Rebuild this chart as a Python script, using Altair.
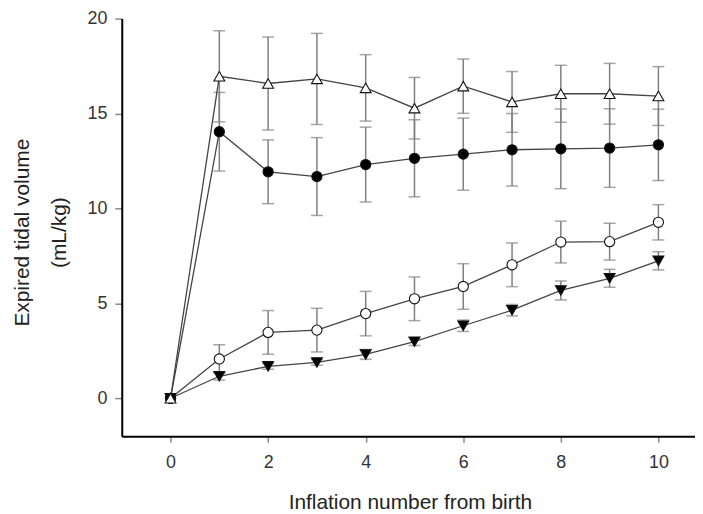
import altair as alt
import pandas as pd

inflation = [0, 1, 2, 3, 4, 5, 6, 7, 8, 9, 10]

tri_up_mean = [0, 16.96, 16.58, 16.82, 16.35, 15.28, 16.44, 15.61, 16.04, 16.04, 15.92]
tri_up_err = [0, 2.40, 2.45, 2.40, 1.75, 1.62, 1.43, 1.60, 1.50, 1.60, 1.55]

circ_fill_mean = [0, 14.04, 11.93, 11.68, 12.31, 12.64, 12.86, 13.09, 13.14, 13.18, 13.35]
circ_fill_err = [0, 2.07, 1.68, 2.05, 1.97, 2.03, 1.90, 1.91, 2.10, 2.07, 1.88]

circ_open_mean = [0, 2.07, 3.47, 3.59, 4.46, 5.24, 5.89, 7.03, 8.23, 8.25, 9.27]
circ_open_err = [0, 0.75, 1.15, 1.15, 1.17, 1.15, 1.20, 1.15, 1.10, 0.97, 0.93]

tri_down_mean = [0, 1.16, 1.68, 1.89, 2.31, 2.98, 3.82, 4.64, 5.68, 6.32, 7.24]
tri_down_err = [0, 0.20, 0.15, 0.15, 0.26, 0.20, 0.30, 0.30, 0.50, 0.47, 0.48]

series = {
    "tri_down": (tri_down_mean, tri_down_err),
    "circ_open": (circ_open_mean, circ_open_err),
    "circ_fill": (circ_fill_mean, circ_fill_err),
    "tri_up": (tri_up_mean, tri_up_err),
}

rows = []
for name, (means, errs) in series.items():
    for xi, m, e in zip(inflation, means, errs):
        rows.append({"series": name, "x": xi, "y": m, "lo": m - e, "hi": m + e, "err": e})
df = pd.DataFrame(rows)

xscale = alt.Scale(domain=[-1, 10.75], nice=False, zero=False)
yscale = alt.Scale(domain=[-2, 20], nice=False, zero=False)

xaxis = alt.Axis(
    values=[0, 2, 4, 6, 8, 10], grid=False,
    domainColor="#000000", domainWidth=2,
    tickColor="#888888", tickWidth=1.5, tickSize=6,
    labelFont="Liberation Sans", labelFontSize=18, labelColor="#333333", labelPadding=11,
    title="Inflation number from birth", titleFont="Liberation Sans", titleFontSize=21,
    titleFontWeight="normal", titleColor="#222222",
    titleBaseline="alphabetic", titleY=73, titleX=290,
)
yaxis = alt.Axis(
    values=[0, 5, 10, 15, 20], grid=False,
    domainColor="#000000", domainWidth=2,
    tickColor="#888888", tickWidth=1.5, tickSize=7,
    labelFont="Liberation Sans", labelFontSize=18, labelColor="#333333", labelPadding=8,
    title=["Expired tidal volume", "(mL/kg)"], titleFont="Liberation Sans", titleFontSize=21,
    titleFontWeight="normal", titleColor="#222222",
    titleAngle=270, titleAlign="center", titleBaseline="middle",
    titleLineHeight=37, titleX=-100, titleY=215,
)

base = alt.Chart(df)
X = alt.X("x:Q", scale=xscale, axis=xaxis)
Y = alt.Y("y:Q", scale=yscale, axis=yaxis)

err = base.transform_filter("datum.err > 0")
rules = err.mark_rule(color="#808080", strokeWidth=1.5).encode(
    x=alt.X("x:Q", scale=xscale), y=alt.Y("lo:Q", scale=yscale), y2="hi:Q")
cap_lo = err.mark_tick(color="#808080", thickness=1.5, size=12, orient="horizontal").encode(
    x=alt.X("x:Q", scale=xscale), y=alt.Y("lo:Q", scale=yscale))
cap_hi = err.mark_tick(color="#808080", thickness=1.5, size=12, orient="horizontal").encode(
    x=alt.X("x:Q", scale=xscale), y=alt.Y("hi:Q", scale=yscale))

lines = base.mark_line(color="#444444", strokeWidth=1.3).encode(
    x=X, y=Y, detail="series:N", order="x:Q")

def pts(name, shape, fill, size):
    return base.transform_filter(alt.datum.series == name).mark_point(
        shape=shape, filled=True, fill=fill, stroke="#111111", strokeWidth=1.1,
        size=size, opacity=1).encode(x=X, y=Y)

layers = [
    rules, cap_lo, cap_hi, lines,
    pts("tri_down", "triangle-down", "#000000", 120),
    pts("circ_open", "circle", "#ffffff", 105),
    pts("circ_fill", "circle", "#000000", 105),
    pts("tri_up", "triangle-up", "#ffffff", 120),
]

chart = alt.layer(*layers).properties(
    width=577, height=420.4,
    autosize=alt.AutoSizeParams(type="none"),
    padding={"left": 114.5, "top": 9, "right": 0, "bottom": 76},
    background="white",
).configure_view(stroke=None)

chart.save("out.html", embed_options={"renderer": "svg", "actions": False})
